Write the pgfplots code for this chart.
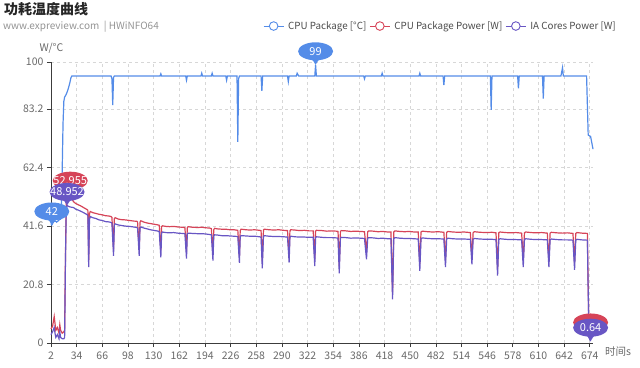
\documentclass[border=0pt]{standalone}
\usepackage{pgfplots}
\pgfplotsset{compat=1.18}
\usepackage{pgfplotstable}
\usepackage{fontspec}
\setmainfont{Noto Sans CJK SC}
\definecolor{cblue}{RGB}{84,140,232}
\definecolor{cred}{RGB}{214,68,88}
\definecolor{cpurp}{RGB}{104,86,196}
\definecolor{ctick}{RGB}{105,105,105}
\definecolor{caxis}{RGB}{60,60,60}
\definecolor{cgrid}{RGB}{215,215,215}

\pgfdeclareplotmark{pin}{%
  \pgfpathellipse{\pgfpoint{0pt}{13.5pt}}{\pgfpoint{17.5pt}{0pt}}{\pgfpoint{0pt}{9pt}}%
  \pgfpathmoveto{\pgfpoint{-7pt}{7pt}}%
  \pgfpathcurveto{\pgfpoint{-3pt}{5pt}}{\pgfpoint{-1pt}{3pt}}{\pgfpoint{0pt}{0pt}}%
  \pgfpathcurveto{\pgfpoint{1pt}{3pt}}{\pgfpoint{3pt}{5pt}}{\pgfpoint{7pt}{7pt}}%
  \pgfpathclose
  \pgfusepathqfill
}

\pgfplotstableread{
x t
2 42.5
3 42
5 43
7 43.5
9 43
11 43.5
13 44
14 44
15 48
16 62
17 78
18 86
19 87.5
21 88.5
23 90
25 92
27 94.5
28 95
77 95
78 94
79 84.7
80 94.5
81 95
138 95
139 95.8
140 95
170 95
171 93.5
172 95
189 95
190 96
191 95
202 95
203 96
204 95
220 95
221 93.5
222 95
234 95
235 71.6
236 94
237 95
264 95
265 89.7
266 95
297 95
298 93
299 95
308 95
309 96
311 95
331 95
332 99
333 95
392 95
393 94
394 95
414 95
415 96
416 95
461 95
462 96
463 95
491 95
492 91.8
493 95
550 95
551 83
552 95
584 95
585 90.6
586 95
615 95
616 87
617 95
638 95
640 98
641 95
670 95
672 74
675 73.5
678 69
}\temptable

\pgfplotstableread{
x r p
2 5.0 3.0
4 6.0 4.0
6 9.4 5.5
7 7.0 3.5
8 4.5 2.0
10 5.5 3.0
12 3.5 1.5
13 6.5 4.0
14 4.5 2.0
16 3.5 1.5
18 4.0 1.5
19 4.5 2.0
20 30.0 28.0
21 50.0 47.0
22 51.5 48.952
24 52.3 48.6
26 52.955 48.4
28 51.5 48.3
30 50.3 48.2
33 49.6 47.6
36 49.2 47.3
39 48.8 46.9
42 48.3 46.5
45 47.8 46.0
47 47.5 45.7
48 47.2 45.3
49 29.5 27.0
50 46.0 44.0
51 46.8 45.0
54 46.4 44.6
58 46.1 44.3
62 45.8 43.8
66 45.6 43.6
70 45.3 43.2
74 45.2 43.1
77 45.0 42.9
78 44.7 42.6
80 33.5 31.0
81 44.2 42.0
82 44.6 42.4
86 44.1 42.0
90 43.9 41.8
95 43.8 41.6
100 43.6 41.5
105 43.4 41.3
109 43.3 41.1
110 43.0 40.9
112 33.5 31.0
113 43.0 40.8
114 43.5 41.3
118 43.0 40.9
122 42.7 40.6
126 42.5 40.3
130 42.3 40.1
134 42.1 39.9
137 41.9 39.7
139 33.0 30.5
140 41.4 39.2
141 41.7 39.5
145 41.5 39.3
150 41.4 39.2
155 41.5 39.3
160 41.3 39.1
165 41.2 39.0
169 41.1 38.9
171 32.5 30.0
172 41.0 38.8
173 41.4 39.1
178 41.2 39.0
185 41.1 38.9
190 41.2 38.9
195 41.0 38.8
200 40.9 38.6
202 40.7 38.5
204 31.8 29.3
205 40.3 38.1
206 40.8 38.5
210 40.6 38.4
215 40.5 38.2
220 40.5 38.2
225 40.3 38.1
230 40.3 38.0
235 40.1 37.9
237 31.0 28.5
238 40.0 37.8
239 40.5 38.2
245 40.3 38.1
250 40.2 38.0
256 40.3 38.0
262 40.1 37.8
264 40.0 37.7
265.5 29.1 26.6
267 40.2 37.9
268 40.5 38.2
274 40.3 38.0
280 40.2 37.9
286 40.3 37.9
292 40.1 37.8
297 40.0 37.7
299 31.1 28.6
300 39.9 37.6
301 40.3 38.0
306 40.2 37.8
312 40.0 37.7
318 40.1 37.7
324 39.9 37.6
329 39.9 37.6
331 29.9 27.4
332 39.8 37.5
333 40.1 37.8
340 40.0 37.6
346 39.8 37.5
352 39.9 37.5
358 39.8 37.4
360 39.7 37.3
361.5 27.3 24.8
363 39.7 37.3
364 40.0 37.6
370 39.9 37.5
376 39.7 37.3
382 39.8 37.4
388 39.7 37.3
393 39.6 37.2
395.5 32.3 29.8
397 39.6 37.2
398 39.9 37.5
404 39.8 37.4
410 39.6 37.2
416 39.7 37.3
422 39.5 37.1
426 39.5 37.1
428 18.0 15.5
429.5 39.5 37.1
431 39.9 37.5
437 39.7 37.3
443 39.6 37.2
449 39.7 37.2
455 39.5 37.1
460 39.5 37.0
462 28.2 25.7
463.5 39.5 37.1
465 39.8 37.4
472 39.6 37.2
478 39.5 37.1
485 39.6 37.1
492 39.4 37.0
494 29.5 27.0
495.5 39.4 37.0
497 39.7 37.3
503 39.5 37.1
510 39.4 37.0
517 39.5 37.0
525 39.3 36.9
527 30.5 28.0
528.5 39.3 36.9
530 39.6 37.2
537 39.4 37.0
545 39.3 36.9
552 39.4 36.9
557 39.2 36.8
559 26.5 24.0
560.5 39.2 36.8
562 39.5 37.1
569 39.3 36.9
575 39.2 36.8
582 39.3 36.8
589 39.1 36.7
591 29.5 27.0
592.5 39.2 36.8
594 39.5 37.1
601 39.3 36.9
607 39.2 36.8
614 39.3 36.8
621 39.1 36.7
623 29.5 27.0
624.5 39.1 36.7
626 39.4 37.0
633 39.2 36.8
640 39.1 36.7
646 39.2 36.7
653 39.0 36.6
655 28.5 26.0
656.5 39.0 36.6
658 39.3 36.9
664 39.1 36.7
671 39.0 36.6
672 20.0 18.0
673 3.0 2.0
675 2.5 0.64
}\powertable

\begin{document}
\begin{tikzpicture}
\path[use as bounding box] (-51pt,-24pt) rectangle (589pt,343pt);
\begin{axis}[
  at={(0pt,0pt)}, anchor=south west,
  scale only axis, width=542pt, height=281pt,
  xmin=2, xmax=678, ymin=0, ymax=100,
  clip=false,
  axis x line*=bottom, axis y line*=left,
  axis line style={caxis, line width=0.7pt},
  tick style={caxis, line width=0.7pt},
  tick align=outside, major tick length=4pt,
  xtick={2,34,...,674},
  ytick={0,20.8,41.6,62.4,83.2,100},
  grid=major,
  major grid style={cgrid, dashed, line width=0.6pt},
  /pgf/number format/.cd, fixed, precision=1, 1000 sep={}, assume math mode=true,
  /pgfplots/.cd,
  ticklabel style={font=\fontsize{10.5}{12}\selectfont, text=ctick},
  xticklabel style={yshift=-1pt},
  legend columns=3,
  legend style={at={(1.046,1.128)}, anchor=east, draw=none, fill=none,
    font=\fontsize{9.8}{12}\selectfont, text=black!70,
    /tikz/every even column/.append style={column sep=1pt},
    /tikz/every odd column/.append style={column sep=2pt},
    inner sep=0pt},
  legend image code/.code={%
    \draw[#1, line width=0.9pt] (0pt,0pt) -- (20pt,0pt);
    \draw[#1, fill=white, line width=0.9pt] (10pt,0pt) circle (4.3pt);},
]
\addplot[cblue, line width=1.2pt, mark=none] table[x=x, y=t] {\temptable};
\addlegendentry{CPU Package [°C]}
\addplot[cred, line width=1.2pt, mark=none] table[x=x, y=r] {\powertable};
\addlegendentry{CPU Package Power [W]}
\addplot[cpurp, line width=1.2pt, mark=none] table[x=x, y=p] {\powertable};
\addlegendentry{IA Cores Power [W]}

\addplot[forget plot, only marks, mark=pin, color=cblue, point meta=explicit symbolic,
  nodes near coords, every node near coord/.append style={anchor=center, yshift=13.5pt, text=white, font=\fontsize{11}{12}\selectfont}]
  coordinates {(3,42) [42] (332,99) [99]};
\addplot[forget plot, only marks, mark=pin, color=cred]
  coordinates {(675,2.5)};
\addplot[forget plot, only marks, mark=pin, color=cred, point meta=explicit symbolic,
  nodes near coords, every node near coord/.append style={anchor=center, yshift=13.5pt, text=white, font=\fontsize{11}{12}\selectfont}]
  coordinates {(26,52.955) [52.955]};
\addplot[forget plot, only marks, mark=pin, color=cpurp, point meta=explicit symbolic,
  nodes near coords, every node near coord/.append style={anchor=center, yshift=13.5pt, text=white, font=\fontsize{11}{12}\selectfont}]
  coordinates {(22,48.952) [48.952] (675,0.64) [0.64]};
\end{axis}
\node[anchor=west, inner sep=0pt, text=black!85, font=\fontsize{14}{16}\selectfont\bfseries] at (-47pt,333.5pt) {功耗温度曲线};
\node[anchor=west, inner sep=0pt, text=black!42, font=\fontsize{10}{12}\selectfont] at (-48pt,316pt) {www.expreview.com \ | HWiNFO64};
\node[anchor=center, inner sep=0pt, text=ctick, font=\fontsize{10.5}{12}\selectfont] at (0.5pt,295pt) {W/°C};
\node[anchor=center, inner sep=0pt, text=ctick, font=\fontsize{10.5}{12}\selectfont] at (567pt,-9pt) {时间s};
\end{tikzpicture}
\end{document}
